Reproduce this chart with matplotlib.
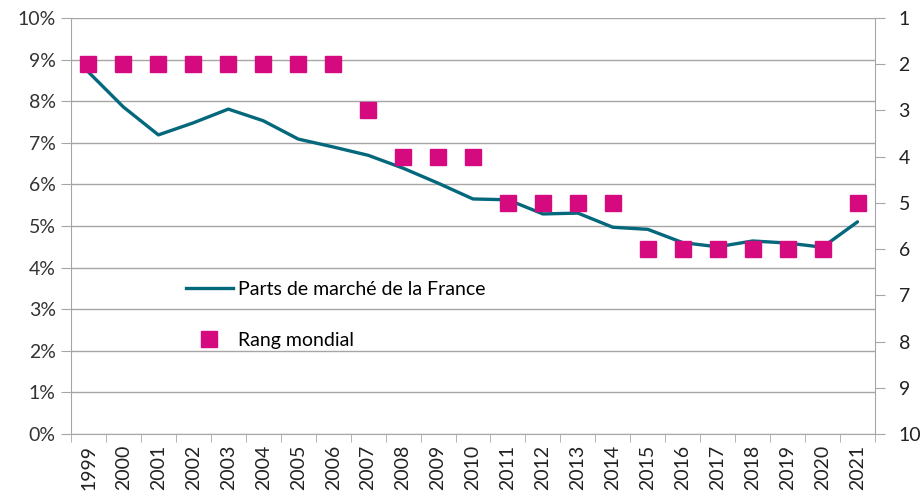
import matplotlib.pyplot as plt
import matplotlib.ticker as mticker
from matplotlib.lines import Line2D

plt.rcParams['font.family'] = ['Lato', 'DejaVu Sans']

years = [str(y) for y in range(1999, 2022)]
# parts de marche (%)
parts = [8.70, 7.86, 7.19, 7.48, 7.81, 7.53, 7.09, 6.90, 6.70, 6.39, 6.03, 5.65,
         5.63, 5.29, 5.31, 4.97, 4.92, 4.60, 4.50, 4.64, 4.59, 4.49, 5.10]
# rang mondial
rang = [2, 2, 2, 2, 2, 2, 2, 2, 3, 4, 4, 4, 5, 5, 5, 5, 6, 6, 6, 6, 6, 6, 5]

teal = '#04687c'
magenta = '#d60a7f'
grey = '#a6a6a6'

fig = plt.figure(figsize=(9.24, 4.98), dpi=100)
ax = fig.add_axes([71/924, 1-434/498, (875-71)/924, (434-18)/498])
x = list(range(len(years)))

ax.plot(x, parts, color=teal, lw=2.4, solid_capstyle='round', zorder=3)
ax.set_xlim(-0.5, len(years)-0.5)
ax.set_ylim(0, 10)
ax.yaxis.set_major_locator(mticker.MultipleLocator(1))
ax.yaxis.set_major_formatter(mticker.FuncFormatter(lambda v, p: f'{int(v)}%'))
ax.grid(axis='y', color=grey, lw=1)
ax.set_axisbelow(True)

ax.set_xticks(x)
ax.set_xticklabels(years, rotation=90)
ax.set_xticks([i - 0.5 for i in range(len(years)+1)], minor=True)
ax.tick_params(axis='x', which='major', length=0, pad=8, labelsize=14, colors='#222222')
ax.tick_params(axis='x', which='minor', length=6, color=grey)
ax.tick_params(axis='y', length=7, color=grey, labelsize=14, labelcolor='#333333', pad=4)

for s in ['top', 'right']:
    ax.spines[s].set_visible(False)
ax.spines['left'].set_color(grey)
ax.spines['bottom'].set_color(grey)

ax2 = ax.twinx()
ax2.plot(x, rang, ls='none', marker='s', ms=12, color=magenta, zorder=4)
ax2.set_ylim(10, 1)
ax2.set_yticks(range(1, 11))
ax2.tick_params(axis='y', length=7, color=grey, labelsize=14, labelcolor='#222222', pad=10)
for s in ['top', 'left', 'bottom']:
    ax2.spines[s].set_visible(False)
ax2.spines['right'].set_color(grey)

handles = [Line2D([], [], color=teal, lw=2.4),
           Line2D([], [], ls='none', marker='s', ms=11, color=magenta)]
ax2.legend(handles, ['Parts de marché de la France', 'Rang mondial'],
           loc='center left', bbox_to_anchor=(186/924, 1-315/498),
           bbox_transform=fig.transFigure, frameon=False, fontsize=14,
           handlelength=2.4, handletextpad=0.25, labelspacing=1.75,
           borderpad=0, borderaxespad=0)

fig.savefig('out.png', dpi=100)
